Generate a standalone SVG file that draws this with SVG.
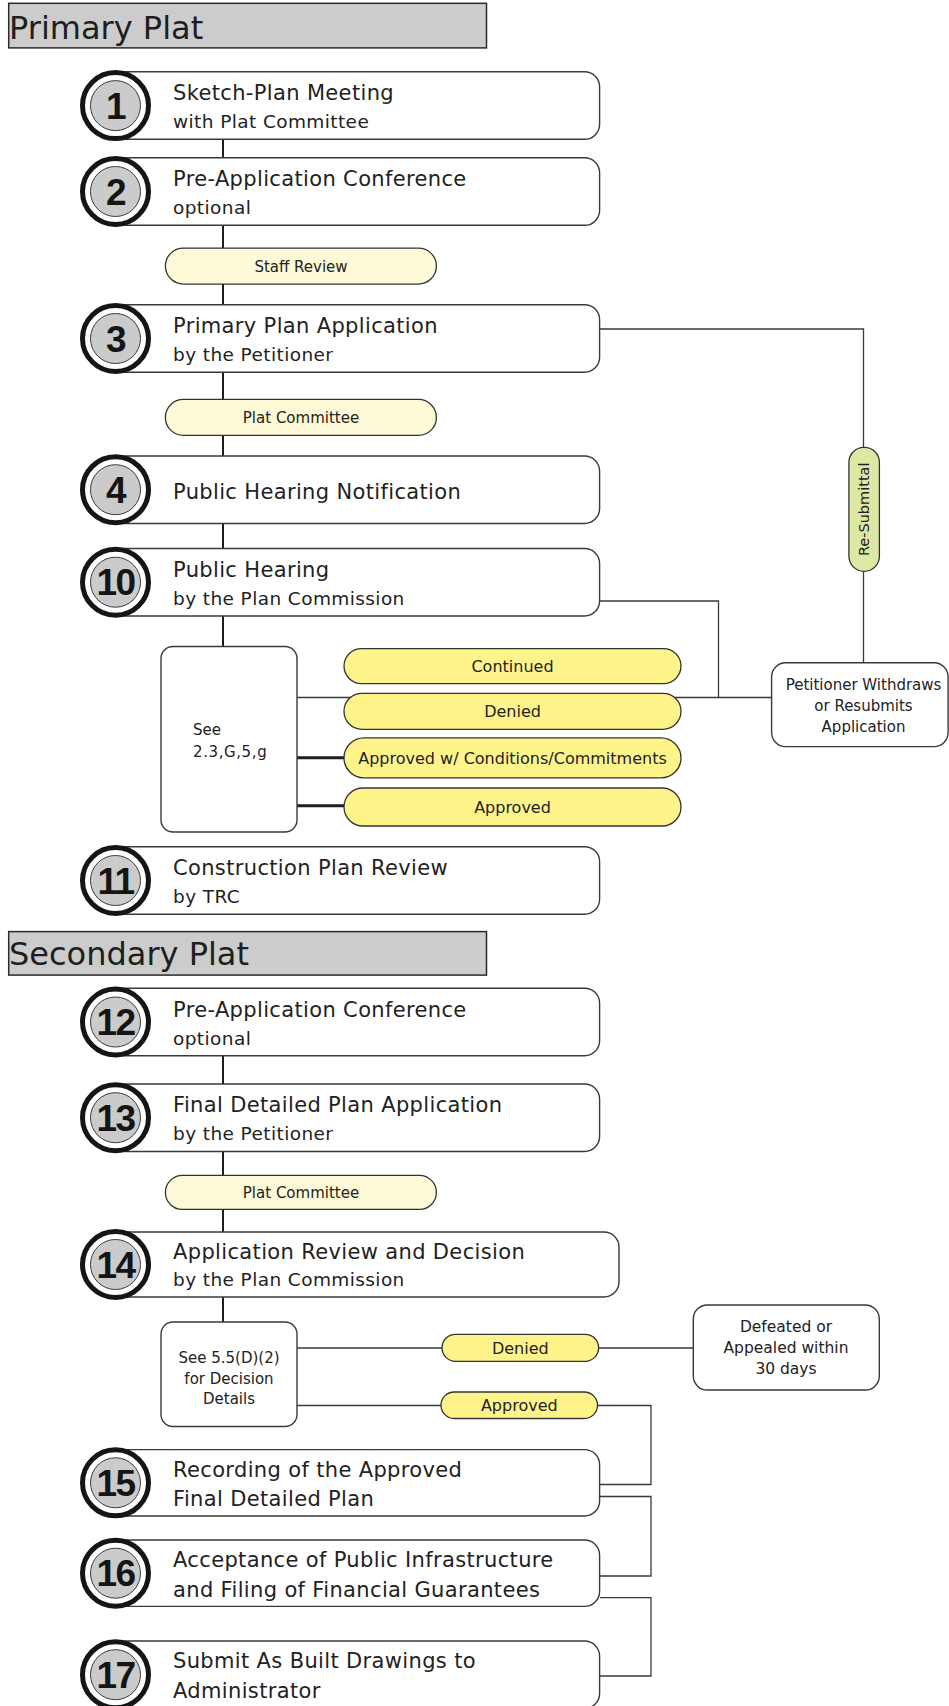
<svg xmlns="http://www.w3.org/2000/svg" width="949" height="1706" viewBox="0 0 949 1706">
<style>
.bg{fill:#ffffff}
.bar{fill:#cccccc;stroke:#2a2a2a;stroke-width:1.5}
.bart{font-family:"DejaVu Sans",sans-serif;font-size:32px;fill:#1e1e1e}
.box{fill:#ffffff;stroke:#3a3a3a;stroke-width:1.4}
.ring{fill:#ffffff;stroke:#151515;stroke-width:5}
.disc{fill:#cbcbcb;stroke:#3a3a3a;stroke-width:1}
.num{font-family:"Liberation Sans",sans-serif;font-weight:bold;font-size:37px;fill:#151515;text-anchor:middle;letter-spacing:-1.5px}
.t1{font-family:"DejaVu Sans",sans-serif;font-size:21px;fill:#222;letter-spacing:0.35px}
.t2{font-family:"DejaVu Sans",sans-serif;font-size:18.5px;fill:#222;letter-spacing:0.4px}
.pl{fill:#fef9d6;stroke:#333;stroke-width:1.3}
.py{fill:#fff48a;stroke:#333;stroke-width:1.3}
.pg{fill:#dde8a4;stroke:#333;stroke-width:1.3}
.pt{font-family:"DejaVu Sans",sans-serif;font-size:15px;fill:#222;text-anchor:middle}
.pt16{font-family:"DejaVu Sans",sans-serif;font-size:16px;fill:#222;text-anchor:middle}
.sm{font-family:"DejaVu Sans",sans-serif;font-size:15px;fill:#222}
.smc{font-family:"DejaVu Sans",sans-serif;font-size:15px;fill:#222;text-anchor:middle}
.sp{fill:none;stroke:#1e1e1e;stroke-width:2}
.ln{fill:none;stroke:#3a3a3a;stroke-width:1.3}
.lk{fill:none;stroke:#1e1e1e;stroke-width:3}
</style>
<rect class="bg" x="0" y="0" width="949" height="1706"/>

<g id="connectors">
  <path class="sp" d="M223,139 V158 M223,225 V248 M223,284 V305 M223,372 V399 M223,435 V456 M223,523 V549 M223,616 V647 M223,1055 V1084 M223,1151 V1175 M223,1209 V1233 M223,1297 V1322"/>
  <path class="ln" d="M600,329 H863.5 V447.3 M863.5,571.3 V662.8"/>
  <path class="ln" d="M600,601 H718.5 V697.5"/>
  <path class="ln" d="M297,697.5 H771.6"/>
  <path class="lk" d="M297,757.7 H344 M297,805.7 H344"/>
  <path class="ln" d="M297,1348 H442 M598.6,1348 H693.3"/>
  <path class="ln" d="M297,1405.5 H441 M597.5,1405.5 H651 V1484.5 H600 M600,1496.5 H651 V1576 H600 M600,1597.6 H651 V1676 H600"/>
</g>

<g id="title-primary">
  <rect class="bar" x="8.7" y="3.3" width="477.8" height="44.6"/>
  <text class="bart" x="9" y="39">Primary Plat</text>
</g>

<g id="node1">
  <rect class="box" x="110" y="71.8" width="489.6" height="67.5" rx="15"/>
  <circle class="ring" cx="115.5" cy="105.6" r="33"/>
  <circle class="disc" cx="115.5" cy="105.6" r="25"/>
  <text class="num" x="115.5" y="118.6">1</text>
  <text class="t1" x="173" y="100">Sketch-Plan Meeting</text>
  <text class="t2" x="173" y="128">with Plat Committee</text>
</g>

<g id="node2">
  <rect class="box" x="110" y="157.8" width="489.6" height="67.5" rx="15"/>
  <circle class="ring" cx="115.5" cy="191.5" r="33"/>
  <circle class="disc" cx="115.5" cy="191.5" r="25"/>
  <text class="num" x="115.5" y="204.5">2</text>
  <text class="t1" x="173" y="186">Pre-Application Conference</text>
  <text class="t2" x="173" y="214">optional</text>
</g>

<g id="staff-review">
  <rect class="pl" x="165.4" y="248.1" width="271" height="36" rx="18"/>
  <text class="pt" x="301" y="271.5">Staff Review</text>
</g>

<g id="node3">
  <rect class="box" x="110" y="304.7" width="489.6" height="67.5" rx="15"/>
  <circle class="ring" cx="115.5" cy="338.5" r="33"/>
  <circle class="disc" cx="115.5" cy="338.5" r="25"/>
  <text class="num" x="115.5" y="351.5">3</text>
  <text class="t1" x="173" y="333">Primary Plan Application</text>
  <text class="t2" x="173" y="361">by the Petitioner</text>
</g>

<g id="plat-committee-1">
  <rect class="pl" x="165.4" y="399.4" width="271" height="36" rx="18"/>
  <text class="pt" x="301" y="422.8">Plat Committee</text>
</g>

<g id="node4">
  <rect class="box" x="110" y="456" width="489.6" height="67.5" rx="15"/>
  <circle class="ring" cx="115.5" cy="489.7" r="33"/>
  <circle class="disc" cx="115.5" cy="489.7" r="25"/>
  <text class="num" x="115.5" y="502.7">4</text>
  <text class="t1" x="173" y="499.3">Public Hearing Notification</text>
</g>

<g id="node10">
  <rect class="box" x="110" y="548.5" width="489.6" height="67.5" rx="15"/>
  <circle class="ring" cx="115.5" cy="582.2" r="33"/>
  <circle class="disc" cx="115.5" cy="582.2" r="25"/>
  <text class="num" x="115.5" y="595.2">10</text>
  <text class="t1" x="173" y="577">Public Hearing</text>
  <text class="t2" x="173" y="605">by the Plan Commission</text>
</g>

<g id="see-box-1">
  <rect class="box" x="161" y="646.5" width="136" height="185.5" rx="12"/>
  <text class="sm" x="193" y="735">See</text>
  <text class="sm" x="193" y="757" style="letter-spacing:0.6px">2.3,G,5,g</text>
</g>

<g id="continued">
  <rect class="py" x="344" y="648.6" width="337" height="35" rx="17.5"/>
  <text class="pt16" x="512.5" y="672">Continued</text>
</g>
<g id="denied-1">
  <rect class="py" x="344" y="693.3" width="337" height="36" rx="18"/>
  <text class="pt16" x="512.5" y="717">Denied</text>
</g>
<g id="approved-conditions">
  <rect class="py" x="344" y="737.9" width="337" height="40" rx="20"/>
  <text class="pt16" x="512.5" y="763.5">Approved w/ Conditions/Commitments</text>
</g>
<g id="approved-1">
  <rect class="py" x="344" y="788" width="337" height="38" rx="19"/>
  <text class="pt16" x="512.5" y="812.5">Approved</text>
</g>

<g id="resubmittal">
  <rect class="pg" x="848.9" y="447.3" width="30.5" height="124" rx="15"/>
  <text class="pt" transform="translate(869,509.3) rotate(-90)" x="0" y="0" style="font-size:14.5px">Re-Submittal</text>
</g>

<g id="petitioner">
  <rect class="box" x="771.6" y="662.8" width="176.5" height="83.8" rx="14"/>
  <text class="smc" x="863.5" y="690">Petitioner Withdraws</text>
  <text class="smc" x="863.5" y="710.7">or Resubmits</text>
  <text class="smc" x="863.5" y="731.7">Application</text>
</g>

<g id="node11">
  <rect class="box" x="110" y="846.7" width="489.6" height="67.5" rx="15"/>
  <circle class="ring" cx="115.5" cy="880.5" r="33"/>
  <circle class="disc" cx="115.5" cy="880.5" r="25"/>
  <text class="num" x="115.5" y="893.5">11</text>
  <text class="t1" x="173" y="875">Construction Plan Review</text>
  <text class="t2" x="173" y="903">by TRC</text>
</g>

<g id="title-secondary">
  <rect class="bar" x="8.7" y="931.6" width="477.8" height="43.5"/>
  <text class="bart" x="9" y="965">Secondary Plat</text>
</g>

<g id="node12">
  <rect class="box" x="110" y="988.2" width="489.6" height="67.5" rx="15"/>
  <circle class="ring" cx="115.5" cy="1022" r="33"/>
  <circle class="disc" cx="115.5" cy="1022" r="25"/>
  <text class="num" x="115.5" y="1035">12</text>
  <text class="t1" x="173" y="1016.5">Pre-Application Conference</text>
  <text class="t2" x="173" y="1044.5">optional</text>
</g>

<g id="node13">
  <rect class="box" x="110" y="1084" width="489.6" height="67.5" rx="15"/>
  <circle class="ring" cx="115.5" cy="1117.7" r="33"/>
  <circle class="disc" cx="115.5" cy="1117.7" r="25"/>
  <text class="num" x="115.5" y="1130.7">13</text>
  <text class="t1" x="173" y="1112">Final Detailed Plan Application</text>
  <text class="t2" x="173" y="1140">by the Petitioner</text>
</g>

<g id="plat-committee-2">
  <rect class="pl" x="165.4" y="1175.4" width="271" height="34" rx="17"/>
  <text class="pt" x="301" y="1197.7">Plat Committee</text>
</g>

<g id="node14">
  <rect class="box" x="110" y="1232" width="509" height="65" rx="15"/>
  <circle class="ring" cx="115.5" cy="1264.5" r="33"/>
  <circle class="disc" cx="115.5" cy="1264.5" r="25"/>
  <text class="num" x="115.5" y="1277.5">14</text>
  <text class="t1" x="173" y="1259.3">Application Review and Decision</text>
  <text class="t2" x="173" y="1285.5">by the Plan Commission</text>
</g>

<g id="see-box-2">
  <rect class="box" x="161" y="1322" width="136" height="104.5" rx="12"/>
  <text class="smc" x="229" y="1363.3">See 5.5(D)(2)</text>
  <text class="smc" x="229" y="1384">for Decision</text>
  <text class="smc" x="229" y="1403.5">Details</text>
</g>

<g id="denied-2">
  <rect class="py" x="442" y="1334.3" width="156.6" height="27" rx="13.5"/>
  <text class="pt16" x="520.3" y="1353.5">Denied</text>
</g>
<g id="approved-2">
  <rect class="py" x="441" y="1392" width="156.5" height="26.5" rx="13.25"/>
  <text class="pt16" x="519.3" y="1411">Approved</text>
</g>

<g id="defeated">
  <rect class="box" x="693.3" y="1305" width="186" height="85" rx="14"/>
  <text class="smc" x="786" y="1331.7" style="font-size:15.5px">Defeated or</text>
  <text class="smc" x="786" y="1352.7" style="font-size:15.5px">Appealed within</text>
  <text class="smc" x="786" y="1374" style="font-size:15.5px">30 days</text>
</g>

<g id="node15">
  <rect class="box" x="110" y="1449.6" width="489.6" height="66.4" rx="15"/>
  <circle class="ring" cx="115.5" cy="1482.8" r="33"/>
  <circle class="disc" cx="115.5" cy="1482.8" r="25"/>
  <text class="num" x="115.5" y="1495.8">15</text>
  <text class="t1" x="173" y="1476.7">Recording of the Approved</text>
  <text class="t1" x="173" y="1506">Final Detailed Plan</text>
</g>

<g id="node16">
  <rect class="box" x="110" y="1540" width="489.6" height="66.4" rx="15"/>
  <circle class="ring" cx="115.5" cy="1573.2" r="33"/>
  <circle class="disc" cx="115.5" cy="1573.2" r="25"/>
  <text class="num" x="115.5" y="1586.2">16</text>
  <text class="t1" x="173" y="1566.7">Acceptance of Public Infrastructure</text>
  <text class="t1" x="173" y="1596.7">and Filing of Financial Guarantees</text>
</g>

<g id="node17">
  <rect class="box" x="110" y="1641" width="489.6" height="67.5" rx="15"/>
  <circle class="ring" cx="115.5" cy="1674.7" r="33"/>
  <circle class="disc" cx="115.5" cy="1674.7" r="25"/>
  <text class="num" x="115.5" y="1687.7">17</text>
  <text class="t1" x="173" y="1668.3">Submit As Built Drawings to</text>
  <text class="t1" x="173" y="1698.3">Administrator</text>
</g>
</svg>
